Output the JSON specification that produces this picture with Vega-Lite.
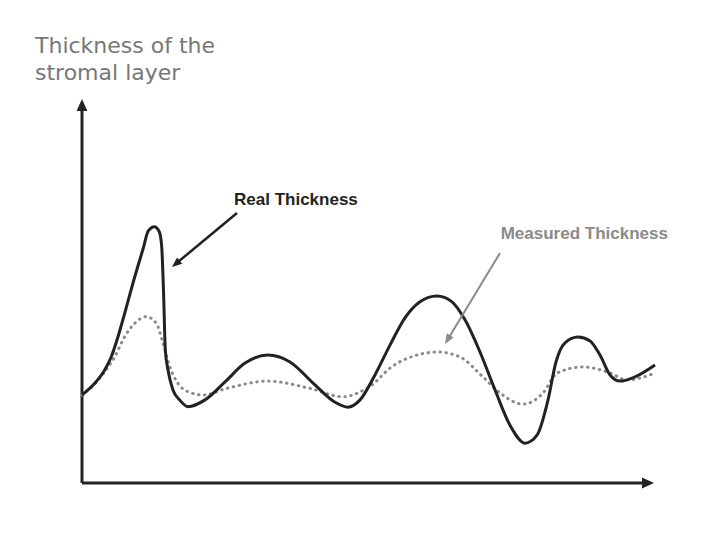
{
  "$schema": "https://vega.github.io/schema/vega-lite/v6.json",
  "width": 573,
  "height": 383,
  "autosize": {"type": "none"},
  "padding": {"left": 82, "top": 100, "right": 48, "bottom": 50},
  "background": "white",
  "config": {"view": {"stroke": null}},
  "datasets": {
    "curves": [
      {"series": "Real", "x": 0, "y": 22.98},
      {"series": "Real", "x": 2.22, "y": 26.03},
      {"series": "Real", "x": 3.96, "y": 29.5},
      {"series": "Real", "x": 5.11, "y": 32.98},
      {"series": "Real", "x": 6.28, "y": 38.2},
      {"series": "Real", "x": 7.45, "y": 44.31},
      {"series": "Real", "x": 8.95, "y": 52.48},
      {"series": "Real", "x": 10.7, "y": 61.36},
      {"series": "Real", "x": 11.57, "y": 65.8},
      {"series": "Real", "x": 12.62, "y": 66.92},
      {"series": "Real", "x": 13.49, "y": 65.61},
      {"series": "Real", "x": 13.91, "y": 61.7},
      {"series": "Real", "x": 14.22, "y": 50.39},
      {"series": "Real", "x": 14.54, "y": 34.73},
      {"series": "Real", "x": 15.01, "y": 29.5},
      {"series": "Real", "x": 15.88, "y": 24.28},
      {"series": "Real", "x": 17.05, "y": 21.67},
      {"series": "Real", "x": 18.5, "y": 19.92},
      {"series": "Real", "x": 21.47, "y": 21.7},
      {"series": "Real", "x": 24.96, "y": 26.4},
      {"series": "Real", "x": 28.45, "y": 31.3},
      {"series": "Real", "x": 32.46, "y": 33.4},
      {"series": "Real", "x": 36.3, "y": 31.6},
      {"series": "Real", "x": 40.66, "y": 25.6},
      {"series": "Real", "x": 44.15, "y": 21.1},
      {"series": "Real", "x": 46.42, "y": 19.8},
      {"series": "Real", "x": 48.52, "y": 21.7},
      {"series": "Real", "x": 51.13, "y": 28.2},
      {"series": "Real", "x": 53.75, "y": 36.0},
      {"series": "Real", "x": 56.37, "y": 43.1},
      {"series": "Real", "x": 58.99, "y": 47.3},
      {"series": "Real", "x": 61.95, "y": 48.8},
      {"series": "Real", "x": 64.57, "y": 47.3},
      {"series": "Real", "x": 66.84, "y": 42.6},
      {"series": "Real", "x": 69.46, "y": 34.2},
      {"series": "Real", "x": 72.08, "y": 24.3},
      {"series": "Real", "x": 74.69, "y": 15.1},
      {"series": "Real", "x": 77.31, "y": 10.4},
      {"series": "Real", "x": 79.41, "y": 12.5},
      {"series": "Real", "x": 81.33, "y": 21.7},
      {"series": "Real", "x": 82.72, "y": 31.6},
      {"series": "Real", "x": 84.29, "y": 36.6},
      {"series": "Real", "x": 86.56, "y": 38.1},
      {"series": "Real", "x": 88.66, "y": 37.1},
      {"series": "Real", "x": 90.4, "y": 33.4},
      {"series": "Real", "x": 92.15, "y": 28.2},
      {"series": "Real", "x": 93.89, "y": 26.6},
      {"series": "Real", "x": 96.51, "y": 27.7},
      {"series": "Real", "x": 100, "y": 30.8},
      {"series": "Measured", "x": 0, "y": 22.98},
      {"series": "Measured", "x": 1.62, "y": 24.99},
      {"series": "Measured", "x": 3.96, "y": 29.06},
      {"series": "Measured", "x": 5.71, "y": 32.98},
      {"series": "Measured", "x": 7.45, "y": 38.2},
      {"series": "Measured", "x": 9.2, "y": 41.7},
      {"series": "Measured", "x": 11.22, "y": 43.42},
      {"series": "Measured", "x": 12.97, "y": 41.7},
      {"series": "Measured", "x": 14.14, "y": 36.48},
      {"series": "Measured", "x": 15.31, "y": 30.37},
      {"series": "Measured", "x": 16.75, "y": 26.03},
      {"series": "Measured", "x": 18.5, "y": 23.84},
      {"series": "Measured", "x": 21.17, "y": 22.98},
      {"series": "Measured", "x": 25.25, "y": 24.7},
      {"series": "Measured", "x": 32.51, "y": 26.6},
      {"series": "Measured", "x": 39.79, "y": 24.7},
      {"series": "Measured", "x": 45.55, "y": 22.5},
      {"series": "Measured", "x": 48.52, "y": 23.8},
      {"series": "Measured", "x": 50.61, "y": 25.6},
      {"series": "Measured", "x": 53.75, "y": 30.0},
      {"series": "Measured", "x": 58.46, "y": 33.4},
      {"series": "Measured", "x": 62.13, "y": 34.2},
      {"series": "Measured", "x": 65.97, "y": 32.9},
      {"series": "Measured", "x": 69.98, "y": 27.7},
      {"series": "Measured", "x": 72.95, "y": 23.5},
      {"series": "Measured", "x": 76.96, "y": 20.6},
      {"series": "Measured", "x": 80.45, "y": 23.5},
      {"series": "Measured", "x": 82.9, "y": 28.7},
      {"series": "Measured", "x": 87.43, "y": 30.3},
      {"series": "Measured", "x": 92.15, "y": 28.7},
      {"series": "Measured", "x": 95.11, "y": 26.9},
      {"series": "Measured", "x": 100, "y": 28.7}
    ]
  },
  "layer": [
    {
      "data": {"values": [{}]},
      "mark": {"type": "rule", "color": "#222222", "strokeWidth": 3},
      "encoding": {
        "x": {"datum": 0, "type": "quantitative", "scale": {"domain": [0, 100]}, "axis": null},
        "x2": {"datum": 98},
        "y": {"datum": 0, "type": "quantitative", "scale": {"domain": [0, 100]}, "axis": null}
      }
    },
    {
      "data": {"values": [{}]},
      "mark": {"type": "rule", "color": "#222222", "strokeWidth": 3},
      "encoding": {
        "x": {"datum": 0, "type": "quantitative"},
        "y": {"datum": 0, "type": "quantitative"},
        "y2": {"datum": 97.5}
      }
    },
    {
      "data": {"values": [{}]},
      "mark": {"type": "point", "shape": "M0,-1L0.9,1L-0.9,1Z", "filled": true, "color": "#222222", "opacity": 1, "size": 144, "angle": 90, "clip": false},
      "encoding": {
        "x": {"datum": 98.78, "type": "quantitative"},
        "y": {"datum": 0, "type": "quantitative"}
      }
    },
    {
      "data": {"values": [{}]},
      "mark": {"type": "point", "shape": "M0,-1L0.9,1L-0.9,1Z", "filled": true, "color": "#222222", "opacity": 1, "size": 144, "angle": 0, "clip": false},
      "encoding": {
        "x": {"datum": 0, "type": "quantitative"},
        "y": {"datum": 98.69, "type": "quantitative"}
      }
    },
    {
      "data": {"name": "curves"},
      "transform": [{"filter": "datum.series === 'Measured'"}],
      "mark": {"type": "line", "color": "#8a8a8a", "strokeWidth": 3, "strokeDash": [0.5, 5.5], "strokeCap": "round", "interpolate": "monotone"},
      "encoding": {
        "x": {"field": "x", "type": "quantitative"},
        "y": {"field": "y", "type": "quantitative"}
      }
    },
    {
      "data": {"name": "curves"},
      "transform": [{"filter": "datum.series === 'Real'"}],
      "mark": {"type": "line", "color": "#222222", "strokeWidth": 3, "interpolate": "monotone"},
      "encoding": {
        "x": {"field": "x", "type": "quantitative"},
        "y": {"field": "y", "type": "quantitative"}
      }
    },
    {
      "data": {"values": [{}]},
      "mark": {"type": "rule", "color": "#222222", "strokeWidth": 2.5},
      "encoding": {
        "x": {"datum": 27.05, "type": "quantitative"},
        "y": {"datum": 70.5, "type": "quantitative"},
        "x2": {"datum": 16.37},
        "y2": {"datum": 57.23}
      }
    },
    {
      "data": {"values": [{}]},
      "mark": {"type": "point", "shape": "M0,-1L0.8,1L-0.8,1Z", "filled": true, "color": "#222222", "opacity": 1, "size": 100, "angle": 230.3, "clip": false},
      "encoding": {
        "x": {"datum": 16.37, "type": "quantitative"},
        "y": {"datum": 57.23, "type": "quantitative"}
      }
    },
    {
      "data": {"values": [{}]},
      "mark": {"type": "rule", "color": "#8a8a8a", "strokeWidth": 2},
      "encoding": {
        "x": {"datum": 72.95, "type": "quantitative"},
        "y": {"datum": 60.05, "type": "quantitative"},
        "x2": {"datum": 63.8},
        "y2": {"datum": 37.42}
      }
    },
    {
      "data": {"values": [{}]},
      "mark": {"type": "point", "shape": "M0,-1L0.8,1L-0.8,1Z", "filled": true, "color": "#8a8a8a", "opacity": 1, "size": 100, "angle": 211.1, "clip": false},
      "encoding": {
        "x": {"datum": 63.8, "type": "quantitative"},
        "y": {"datum": 37.42, "type": "quantitative"}
      }
    },
    {
      "data": {"values": [{}]},
      "mark": {"type": "text", "text": "Real Thickness", "font": "Liberation Sans", "fontWeight": "bold", "fontSize": 17, "color": "#222222", "align": "left", "baseline": "alphabetic", "clip": false},
      "encoding": {
        "x": {"datum": 26.53, "type": "quantitative"},
        "y": {"datum": 72.58, "type": "quantitative"}
      }
    },
    {
      "data": {"values": [{}]},
      "mark": {"type": "text", "text": "Measured Thickness", "font": "Liberation Sans", "fontWeight": "bold", "fontSize": 17, "color": "#8a8a8a", "align": "left", "baseline": "alphabetic", "clip": false},
      "encoding": {
        "x": {"datum": 73.07, "type": "quantitative"},
        "y": {"datum": 63.63, "type": "quantitative"}
      }
    },
    {
      "data": {"values": [{}]},
      "mark": {"type": "text", "text": "Thickness of the", "font": "DejaVu Sans", "fontSize": 22, "color": "#777777", "align": "left", "baseline": "alphabetic", "clip": false},
      "encoding": {
        "x": {"datum": -8.2, "type": "quantitative"},
        "y": {"datum": 112.27, "type": "quantitative"}
      }
    },
    {
      "data": {"values": [{}]},
      "mark": {"type": "text", "text": "stromal layer", "font": "DejaVu Sans", "fontSize": 22, "color": "#777777", "align": "left", "baseline": "alphabetic", "clip": false},
      "encoding": {
        "x": {"datum": -8.2, "type": "quantitative"},
        "y": {"datum": 105.22, "type": "quantitative"}
      }
    }
  ]
}
